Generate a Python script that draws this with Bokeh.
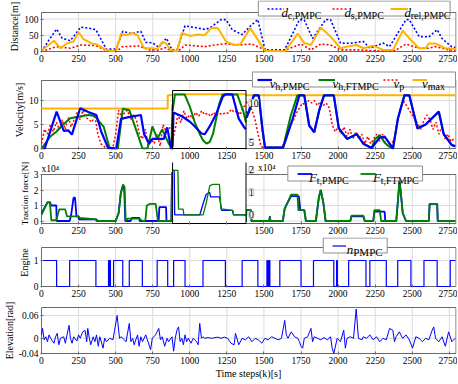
import numpy as np
from bokeh.plotting import figure
from bokeh.layouts import column
from bokeh.models import Range1d, FixedTicker, Label, Legend, LegendItem
from bokeh.embed import file_html
from bokeh.resources import INLINE

# ------------------------------------------------------------------ data
x_ticks = [0, 250, 500, 750, 1000, 1250, 1500, 1750, 2000, 2250, 2500, 2750]

# Distance [m]  (time step, value)
dc_pts = [(0,0),(50,35),(102,69),(139,41),(194,33),(265,75),(315,72),(367,67),(438,7),(504,8),(548,62),(603,55),(670,62),(703,28),(748,27),(791,13),(842,41),(880,5),(914,5),(968,79),(1056,72),(1100,68),(1134,72),(1211,98),(1245,98),(1286,67),(1352,52),(1419,83),(1459,98),(1507,5),(1640,5),(1739,98),(1772,97),(1828,40),(1916,98),(1949,98),(2016,26),(2082,25),(2170,31),(2214,10),(2303,26),(2347,15),(2458,98),(2480,98),(2546,46),(2612,45),(2668,67),(2700,40),(2765,15),(2790,12)]
ds_pts = [(0,0),(102,15),(194,10),(265,20),(367,18),(438,3),(504,0),(548,15),(659,17),(726,5),(791,5),(836,12),(880,0),(925,2),(968,20),(1100,15),(1167,20),(1233,24),(1330,20),(1418,23),(1507,5),(1618,0),(1750,23),(1817,5),(1883,23),(1949,20),(2016,5),(2126,5),(2259,2),(2370,0),(2458,23),(2546,10),(2612,10),(2656,15),(2745,5),(2790,4)]
drel_pts = [(0,3),(84,33),(128,10),(172,25),(216,31),(250,60),(283,38),(339,25),(371,22),(438,5),(480,0),(504,5),(537,55),(570,50),(615,57),(648,50),(692,10),(748,10),(780,8),(814,29),(840,25),(869,5),(914,0),(946,57),(1001,48),(1056,52),(1100,50),(1145,72),(1189,72),(1245,30),(1300,20),(1340,22),(1408,72),(1507,2),(1640,0),(1673,20),(1728,55),(1772,26),(1817,20),(1883,74),(1949,46),(2016,10),(2060,15),(2126,20),(2170,10),(2237,18),(2303,5),(2370,5),(2436,64),(2491,35),(2546,10),(2590,10),(2612,25),(2656,25),(2722,10),(2790,8)]

# Velocity [m/s]
vh_pmpc_pts = [(0,0),(22,0),(102,7.7),(150,3.7),(180,3.8),(205,2.9),(261,8.4),(316,7.6),(370,7.0),(403,3.5),(448,0.2),(504,0),(536,6.2),(580,6.5),(670,7.0),(692,3.0),(726,1.0),(748,2.0),(792,2.0),(825,2.0),(848,4.4),(873,0),(878,0),(890,8.8),(946,8.3),(1001,7.6),(1034,7.0),(1079,6.1),(1101,6.0),(1134,7.0),(1178,8.6),(1222,10.8),(1240,11.1),(1287,11.1),(1330,8.0),(1366,6.9),(1385,6.5),(1405,8.5),(1432,11.1),(1465,11.1),(1490,4.0),(1507,0.2),(1629,0.2),(1694,6.2),(1739,11.1),(1772,11.1),(1805,4.8),(1839,3.4),(1872,7.9),(1905,11.1),(1971,11.1),(2005,4.2),(2060,2.0),(2126,3.0),(2170,1.0),(2226,0.1),(2281,2.3),(2314,2.5),(2370,0),(2403,6.2),(2447,11.1),(2480,11.1),(2535,4.2),(2590,5.0),(2679,7.7),(2712,3.0),(2767,0.7),(2790,0.5)]
vh_ftmpc_pts = [(0,0),(60,2.5),(100,3.5),(139,4.8),(194,6.3),(316,7.0),(360,6.8),(392,5.5),(420,4.5),(460,0),(515,0),(548,8.3),(592,8.0),(648,3.0),(681,0),(715,0),(748,4.6),(781,2.0),(814,4.0),(858,1.0),(876,0.3),(884,9.0),(900,11.1),(965,11.1),(1001,9.5),(1034,7.5),(1068,6.0),(1090,5.2),(1112,4.8),(1134,5.0),(1156,6.0),(1178,8.0),(1200,10.0),(1222,11.1),(1287,11.1),(1320,11.1),(1360,9.0),(1379,7.5),(1400,7.5),(1432,11.1),(1465,11.1),(1490,4.0),(1507,0.2),(1629,0.2),(1680,6.8),(1725,11.1),(1772,11.1),(1805,4.8),(1839,3.4),(1872,7.9),(1905,11.1),(1971,11.1),(2005,4.2),(2060,2.0),(2126,3.0),(2170,1.0),(2226,0.1),(2250,2.0),(2281,2.8),(2314,1.2),(2340,0.5),(2370,0),(2403,6.2),(2447,11.1),(2480,11.1),(2535,4.2),(2590,5.0),(2679,7.7),(2712,3.0),(2767,0.7),(2790,0.5)]
vp_pts = [(0,1.0),(20,4.0),(40,3.0),(60,5.0),(80,3.5),(100,5.5),(120,4.0),(140,6.0),(160,4.0),(180,6.5),(200,4.5),(220,6.0),(240,7.5),(260,6.0),(280,8.0),(300,6.5),(320,6.0),(340,5.5),(360,7.0),(380,3.0),(400,1.0),(420,0.5),(440,0.0),(460,0.0),(480,0.0),(500,3.0),(520,8.0),(540,6.5),(560,7.5),(580,8.0),(600,6.0),(620,7.0),(640,6.0),(660,3.0),(680,2.0),(700,4.0),(720,0.5),(740,2.0),(760,1.0),(780,3.0),(800,0.5),(820,5.0),(840,3.5),(860,4.0),(880,5.0),(900,6.5),(920,8.5),(940,7.5),(960,9.0),(980,8.0),(1000,8.5),(1020,8.0),(1040,8.8),(1060,8.3),(1080,9.0),(1100,8.5),(1120,8.7),(1140,8.3),(1160,8.8),(1180,8.4),(1200,8.7),(1220,8.5),(1240,8.8),(1260,8.7),(1280,9.2),(1300,8.8),(1320,9.0),(1340,8.5),(1360,9.5),(1380,9.7),(1400,9.0),(1420,8.0),(1440,6.0),(1460,3.0),(1480,0.5),(1500,0.0),(1520,0.0),(1540,0.3),(1560,0.0),(1580,0.3),(1600,0.0),(1620,0.5),(1640,1.0),(1660,3.0),(1680,5.0),(1700,6.0),(1720,7.5),(1740,8.5),(1760,9.5),(1780,9.0),(1800,10.0),(1820,9.5),(1840,10.0),(1860,9.0),(1880,9.8),(1900,9.0),(1920,9.5),(1940,8.5),(1960,5.0),(1980,3.5),(2000,4.5),(2020,3.0),(2040,4.5),(2060,2.5),(2080,4.0),(2100,2.0),(2120,3.5),(2140,2.0),(2160,3.0),(2180,1.0),(2200,2.5),(2220,1.0),(2240,2.0),(2260,3.0),(2280,1.5),(2300,3.0),(2320,1.0),(2340,0.5),(2360,1.0),(2380,2.0),(2400,6.0),(2420,8.5),(2440,10.0),(2460,9.0),(2480,8.0),(2500,7.0),(2520,6.0),(2540,5.0),(2560,4.0),(2580,6.0),(2600,7.0),(2620,6.0),(2640,4.0),(2660,5.5),(2680,3.0),(2700,4.5),(2720,2.0),(2740,3.0),(2760,1.5),(2780,2.0)]
vmax_pts = [(0,8.33),(851,8.33),(851,11.11),(2790,11.11)]

# Traction force [x10^4 N]
ft_pmpc_pts = [(0,0.5),(40,1.2),(60,1.2),(62,1.0),(100,1.0),(102,0),(190,0),(200,0.4),(216,1.5),(226,1.5),(236,0.3),(250,0.3),(252,0.1),(370,0.1),(372,0),(500,0),(520,0.5),(535,1.8),(550,2.3),(558,2.0),(565,0),(600,0),(610,0.2),(660,0.2),(662,0),(790,0),(795,0.9),(840,0.9),(843,0),(876,0),(880,3.1),(895,3.1),(898,0),(1068,0),(1090,0.5),(1110,0.9),(1134,1.0),(1140,0.8),(1200,0.8),(1215,0.2),(1287,0.2),(1295,0),(1379,0),(1381,0.7),(1412,0.7),(1416,0),(1536,0),(1540,0.3),(1544,0),(1627,0),(1640,0.8),(1660,1.2),(1683,1.6),(1735,1.6),(1745,0.7),(1772,0.7),(1783,0),(1850,0),(1870,1.5),(1883,2.0),(1900,1.2),(1916,0),(2082,0),(2090,0.3),(2170,0.3),(2180,0),(2237,0),(2245,0.6),(2314,0.6),(2318,0),(2392,0),(2405,1.5),(2414,2.6),(2425,1.6),(2436,0.5),(2458,0),(2612,0),(2617,1.1),(2668,1.1),(2672,0),(2790,0)]
ft_ftmpc_pts = [(0,0.4),(35,1.1),(40,1.2),(57,1.2),(66,0.05),(100,0.05),(115,0.6),(120,0.75),(160,0.75),(172,0.3),(250,0.3),(260,0.2),(370,0.1),(380,0),(500,0),(520,0.5),(535,1.8),(550,2.35),(560,2.2),(568,0),(580,0.15),(600,0.15),(660,0.15),(680,0),(700,0),(710,1.0),(730,1.1),(770,1.1),(785,0),(876,0),(880,3.1),(920,3.1),(924,0.25),(955,0.25),(960,0),(1090,0),(1110,0.5),(1135,1.3),(1156,1.35),(1200,1.35),(1210,0.26),(1290,0.2),(1295,0),(1379,0),(1381,0.7),(1412,0.7),(1416,0),(1536,0),(1540,0.3),(1544,0),(1627,0),(1640,0.8),(1660,1.2),(1683,1.7),(1726,1.7),(1732,0.7),(1772,0.7),(1783,0),(1850,0),(1870,1.5),(1883,2.0),(1900,1.2),(1916,0),(2082,0),(2090,0.35),(2170,0.35),(2180,0),(2237,0),(2245,0.7),(2281,0.7),(2290,0),(2392,0),(2405,1.5),(2414,2.6),(2425,1.6),(2436,0.5),(2458,0),(2612,0),(2617,1.1),(2668,1.1),(2672,0),(2790,0)]

# Engine on/off (switch step, state)
engine_pts = [(0,1),(102,0),(190,1),(367,0),(452,1),(457,0),(461,1),(465,0),(486,1),(548,0),(592,1),(680,0),(780,1),(851,0),(891,1),(968,0),(1089,1),(1240,0),(1353,1),(1459,0),(1520,1),(1525,0),(1533,1),(1540,0),(1607,1),(1750,0),(1834,1),(1971,0),(1990,1),(1995,0),(2071,1),(2188,0),(2214,1),(2325,0),(2402,1),(2491,0),(2579,1),(2668,0),(2756,1),(2790,1)]

# Elevation [rad]
elev_pts = [(0,0.009),(7,0.026),(18,-0.004),(29,0.004),(40,-0.009),(51,0.009),(62,0.0),(84,-0.013),(95,0.004),(106,0.013),(117,-0.017),(128,0.0),(150,0.004),(161,-0.013),(172,0.009),(186,0.034),(195,0.0),(206,-0.013),(217,0.004),(239,-0.007),(250,0.009),(261,0.0),(278,0.017),(294,0.021),(305,-0.009),(312,0.026),(323,0.0),(332,-0.017),(349,0.004),(360,-0.009),(371,0.009),(383,-0.021),(393,0.004),(404,-0.010),(415,-0.026),(426,0.0),(438,-0.009),(460,0.0),(482,-0.004),(493,0.021),(510,0.060),(526,0.0),(537,0.004),(559,-0.004),(570,-0.009),(592,0.039),(603,-0.009),(615,0.0),(625,-0.017),(636,-0.004),(648,0.009),(658,-0.021),(670,0.004),(681,-0.009),(703,0.009),(714,-0.004),(736,-0.030),(747,0.0),(769,0.009),(791,0.026),(802,-0.004),(814,0.004),(831,-0.021),(847,0.0),(857,-0.009),(880,0.004),(891,-0.034),(902,0.0),(913,0.021),(924,0.030),(935,-0.009),(946,0.0),(957,-0.017),(968,0.009),(979,-0.009),(990,0.0),(1008,-0.013),(1023,0.0),(1046,-0.009),(1056,-0.017),(1067,0.039),(1079,0.0),(1089,0.004),(1101,0.0),(1123,0.002),(1145,0.0),(1189,0.003),(1211,0.0),(1233,0.003),(1255,0.0),(1278,-0.013),(1299,-0.017),(1308,0.013),(1330,-0.017),(1353,0.0),(1375,-0.004),(1397,0.004),(1419,-0.009),(1441,0.0),(1463,-0.004),(1485,-0.013),(1507,0.0),(1529,-0.004),(1551,0.004),(1574,0.0),(1596,-0.004),(1618,0.0),(1640,0.047),(1651,0.009),(1662,0.0),(1684,0.017),(1706,0.004),(1728,0.0),(1739,-0.009),(1750,-0.021),(1761,-0.026),(1772,0.0),(1795,0.004),(1817,0.026),(1828,-0.009),(1839,0.004),(1861,0.0),(1883,-0.004),(1905,0.002),(1927,-0.004),(1949,0.004),(1960,-0.026),(1971,-0.040),(1994,0.0),(2016,-0.009),(2038,0.021),(2049,-0.026),(2060,0.0),(2082,0.004),(2104,0.0),(2122,0.077),(2137,0.0),(2160,-0.004),(2170,0.004),(2192,0.0),(2214,0.009),(2236,-0.004),(2259,0.004),(2281,-0.009),(2303,0.0),(2325,-0.004),(2347,0.026),(2369,0.021),(2380,-0.009),(2391,0.004),(2413,0.017),(2435,0.0),(2458,0.009),(2480,-0.004),(2502,-0.026),(2524,0.004),(2546,0.0),(2568,-0.009),(2590,0.0),(2612,-0.004),(2634,0.021),(2645,0.030),(2657,0.0),(2679,-0.009),(2701,0.004),(2723,-0.021),(2745,0.017),(2767,-0.009),(2790,0.0)]


def xy(pts):
    k, v = zip(*pts)
    return list(k), list(v)

# ------------------------------------------------------------------ style / layout
FONT = "Liberation Serif"
BLUE, RED, GREEN, ORANGE = "#0000ff", "#ff0000", "#008000", "#ffb300"
GRID, FRAME = "#dcdcdc", "#6a6a6a"
W, BL, BR = 457, 33, 1
X_END = 2795.0                  # right edge of the axes box
DPX = X_END / 421.5             # steps per pixel
xr = Range1d(-DPX, X_END + 0.5 * DPX)

MAIN_W = {"d": .5, "v": .444, "F": .611, "n": .5}


def panel(top_abs, vis_h, ext_top, bt, bb, y0, y1, yticks, ylabel, ylabel_fs="10px"):
    ppu = vis_h / (y1 - y0)
    fr_h = vis_h + 1 + ext_top
    y_end = y1 + ext_top / ppu
    p = figure(width=W, height=bt + fr_h + bb, x_range=xr,
               y_range=Range1d(y0 - 1.0 / ppu, y_end),
               output_backend="svg", toolbar_location=None,
               min_border_left=BL, min_border_right=BR, min_border_top=bt, min_border_bottom=bb)
    p.outline_line_color = None
    p.grid.visible = False
    p.xaxis.ticker = FixedTicker(ticks=x_ticks)
    p.yaxis.ticker = FixedTicker(ticks=yticks)
    p.yaxis.bounds = (y0, y1)
    for ax in (p.xaxis[0], p.yaxis[0]):
        ax.axis_line_color = None
        ax.major_tick_in = 3
        ax.major_tick_out = 0
        ax.major_tick_line_color = FRAME
        ax.minor_tick_line_color = None
        ax.major_label_text_font = FONT
        ax.major_label_text_font_size = "9.5px"
        ax.major_label_text_color = "black"
        ax.major_label_standoff = 2
        ax.axis_label_text_font = FONT
        ax.axis_label_text_font_size = ylabel_fs
        ax.axis_label_text_font_style = "normal"
        ax.axis_label_text_color = "black"
        ax.axis_label_standoff = 1
    p.yaxis.axis_label = ylabel
    gx = [t for t in x_ticks if 0 < t < X_END]
    p.multi_line([[t, t] for t in gx], [[y0, y1]] * len(gx), line_color=GRID, line_width=1)
    gy = [t for t in yticks if y0 < t < y1]
    if gy:
        p.multi_line([[0, X_END]] * len(gy), [[t, t] for t in gy], line_color=GRID, line_width=1)
    p.multi_line([[0, 0], [X_END, X_END], [0, X_END], [0, X_END]],
                 [[y0, y1], [y0, y1], [y0, y0], [y1, y1]], line_color=FRAME, line_width=1)
    ftop = top_abs + bt
    return dict(p=p, ftop=ftop, fbot=ftop + fr_h,
                X=lambda a: (a - 34.0) * DPX,
                Y=lambda a, _e=y_end, _t=ftop, _u=ppu: _e - (a - _t) / _u)


def add_legend(pn, rends, mains, subs, box, items, main_fs=13.0, sub_fs=10.0, gh=9):
    """box: (x0, y0, x1, y1) and items: (sample_x0, sample_x1, text_x) in page pixels."""
    p, X, Y = pn["p"], pn["X"], pn["Y"]
    bx0, by0, bx1, by1 = box
    p.quad(left=[X(bx0)], right=[X(bx1)], bottom=[Y(by1)], top=[Y(by0)],
           fill_color="white", line_color="#8c8c8c", line_width=1)
    cy = (by0 + by1) / 2.0
    for r, m, s, (sx0, sx1, tx) in zip(rends, mains, subs, items):
        p.add_layout(Legend(items=[LegendItem(label=" ", renderers=[r])],
                            location=(sx0 - BL, pn["fbot"] - (cy + gh / 2.0)),
                            orientation="horizontal", padding=0, spacing=0, margin=0,
                            glyph_width=int(round(sx1 - sx0)), glyph_height=gh, label_height=gh,
                            label_width=0, label_standoff=0, label_text_font_size="4px",
                            border_line_color=None, background_fill_alpha=0))
        mw = MAIN_W[m] * main_fs
        p.add_layout(Label(x=X(tx), y=Y(cy + 3.5), text=m, text_font=FONT,
                           text_font_size=f"{main_fs}px", text_font_style="italic",
                           text_baseline="alphabetic", text_align="left", text_color="black"))
        p.add_layout(Label(x=X(tx + mw), y=Y(cy + 6.5), text=s, text_font=FONT,
                           text_font_size=f"{sub_fs}px", text_font_style="normal",
                           text_baseline="alphabetic", text_align="left", text_color="black"))


def window(pts, a, b, vmax=None):
    k, v = xy(pts)
    k = np.asarray(k, float)
    v = np.asarray(v, float)
    inside = (k > a) & (k < b)
    kk = np.concatenate([[a], k[inside], [b]])
    vv = np.concatenate([[np.interp(a, k, v)], v[inside], [np.interp(b, k, v)]])
    if vmax is not None:
        vv = np.minimum(vv, vmax)
    return kk, vv


def side_label(p, x, y, text, rn, xo=3, box=True):
    kw = dict(background_fill_color="white", border_line_color="#c0c0c0") if box else {}
    p.add_layout(Label(x=x, y=y, x_offset=xo, text=text, y_range_name=rn, text_font=FONT,
                       text_font_size="9.5px", text_baseline="middle", text_align="left",
                       text_color="black", **kw))


INS_K0, INS_K1 = 884, 1379

# ------------------------------------------------------------------ panel 1: distance
P1 = panel(0, 39, 12, 0, 14, 0, 120, [0, 50, 100], "Distance[m]")
p1 = P1["p"]
r_dc = p1.line(*xy(dc_pts), line_color=BLUE, line_width=1.6, line_dash="2 2")
r_ds = p1.line(*xy(ds_pts), line_color=RED, line_width=1.6, line_dash="2 2")
r_dr = p1.line(*xy(drel_pts), line_color=ORANGE, line_width=2)
add_legend(P1, [r_dc, r_ds, r_dr], ["d", "d", "d"], ["c,PMPC", "s,PMPC", "rel,PMPC"],
           box=(254.5, 0.5, 449.5, 15.5),
           items=[(259.5, 276.5, 278), (324.5, 340, 342), (383, 401, 403)])

# ------------------------------------------------------------------ panel 2: velocity
P2 = panel(66, 68, 10, 4, 13, 0, 14.2, [0, 5, 10], "Velocity[m/s]")
p2 = P2["p"]
IV0, IVP = 4.17, 7.8            # inset: value at its bottom edge, pixels per m/s
p2.extra_y_ranges = {"inset_v": Range1d(IV0 - 1.0 / IVP, IV0 + (68 + 10) / IVP)}
INS_V_TOP = IV0 + 58 / IVP
r_vmax = p2.line(*xy(vmax_pts), line_color=ORANGE, line_width=2)
r_vp = p2.line(*xy(vp_pts), line_color=RED, line_width=1.5, line_dash="2 2")
r_vf = p2.line(*xy(vh_ftmpc_pts), line_color=GREEN, line_width=2)
r_vh = p2.line(*xy(vh_pmpc_pts), line_color=BLUE, line_width=2.2)
p2.quad(left=[INS_K0], right=[INS_K1], bottom=[IV0], top=[INS_V_TOP], y_range_name="inset_v",
        fill_color="white", line_color=None)
for pts, col, lw, dash in [(vmax_pts, ORANGE, 2, "solid"), (vp_pts, RED, 1.5, "2 2"),
                           (vh_ftmpc_pts, GREEN, 2, "solid"), (vh_pmpc_pts, BLUE, 2.2, "solid")]:
    kk, vv = window(pts, INS_K0, INS_K1)
    p2.line(kk, vv, y_range_name="inset_v", line_color=col, line_width=lw, line_dash=dash)
p2.multi_line([[INS_K0, INS_K1], [INS_K0, INS_K0], [INS_K1, INS_K1], [INS_K0, INS_K1]],
              [[INS_V_TOP, INS_V_TOP], [INS_V_TOP, 0], [INS_V_TOP, 0], [IV0, IV0]],
              y_range_name="inset_v", line_color="black", line_width=1)
side_label(p2, INS_K1, 10, "10", "inset_v")
side_label(p2, INS_K1, 5, "5", "inset_v")
add_legend(P2, [r_vh, r_vf, r_vp, r_vmax], ["v", "v", "v", "v"], ["h,PMPC", "h,FTMPC", "p", "max"],
           box=(248.5, 71.5, 455.0, 86.5),
           items=[(250, 265, 266), (311, 328, 330), (376, 391, 392), (405, 420, 421)])

# ------------------------------------------------------------------ panel 3: traction force
P3 = panel(162, 49, 12, 0, 13, -0.16, 3.0, [0, 1, 2, 3], "Traction force[N]", ylabel_fs="9px")
p3 = P3["p"]
p3.xaxis.major_label_overrides = {1000: "", 1250: ""}
IF0, IFP = -0.387, 22.5          # inset: value at its bottom edge, pixels per 1e4 N
p3.extra_y_ranges = {"inset_f": Range1d(IF0 - 1.0 / IFP, IF0 + (49 + 12) / IFP)}
r_fp = p3.line(*xy(ft_pmpc_pts), line_color=BLUE, line_width=1.8)
r_ff = p3.line(*xy(ft_ftmpc_pts), line_color=GREEN, line_width=1.8)
p3.quad(left=[INS_K0], right=[INS_K1], bottom=[IF0], top=[10], y_range_name="inset_f",
        fill_color="white", line_color=None)
for pts, col in [(ft_pmpc_pts, BLUE), (ft_ftmpc_pts, GREEN)]:
    kk, vv = window(pts, INS_K0, INS_K1, vmax=1.97)
    p3.line(kk, vv, y_range_name="inset_f", line_color=col, line_width=1.3)
p3.multi_line([[INS_K0, INS_K0], [INS_K1, INS_K1], [INS_K0, INS_K1]],
              [[10, IF0], [10, IF0], [IF0, IF0]],
              y_range_name="inset_f", line_color="black", line_width=1)
side_label(p3, INS_K1, 2, "2", "inset_f")
side_label(p3, INS_K1, 2.08, "x10\u2074", "inset_f", xo=12, box=False)
side_label(p3, INS_K1, 1, "1", "inset_f")
side_label(p3, INS_K1, 0, "0", "inset_f")
p3.add_layout(Label(x=0, y=P3["Y"](168.5), text="x10\u2074", text_font=FONT, text_font_size="9.5px",
                    text_baseline="middle", text_align="left", text_color="black"))
add_legend(P3, [r_fp, r_ff], ["F", "F"], ["t,PMPC", "t,FTMPC"],
           box=(284.5, 165.5, 421.5, 180.5),
           items=[(289.5, 304.5, 306), (353, 369.5, 371)])

# ------------------------------------------------------------------ panel 4: engine
P4 = panel(237, 39, 10, 0, 12, 0, 1.5, [0, 1], "Engine")
p4 = P4["p"]
r_n = p4.step(*xy(engine_pts), mode="after", line_color=BLUE, line_width=1.2)
add_legend(P4, [r_n], ["n"], ["PMPC"], box=(320.5, 237.5, 385.5, 252.5),
           items=[(324.5, 338.5, 344.5)], sub_fs=11.0)

# ------------------------------------------------------------------ panel 5: elevation
P5 = panel(299, 46, 1, 7, 29, -0.04, 0.081, [-0.04, 0, 0.06], "Elevation[rad]")
p5 = P5["p"]
p5.yaxis.major_label_overrides = {-0.04: "-0.04", 0: "0", 0.06: "0.06"}
p5.line(*xy(elev_pts), line_color=BLUE, line_width=1.0)
p5.xaxis.axis_label = "Time steps(k)[s]"

layout = column(p1, p2, p3, p4, p5, spacing=0)
open("out.html", "w").write(file_html(layout, INLINE, title="chart"))
